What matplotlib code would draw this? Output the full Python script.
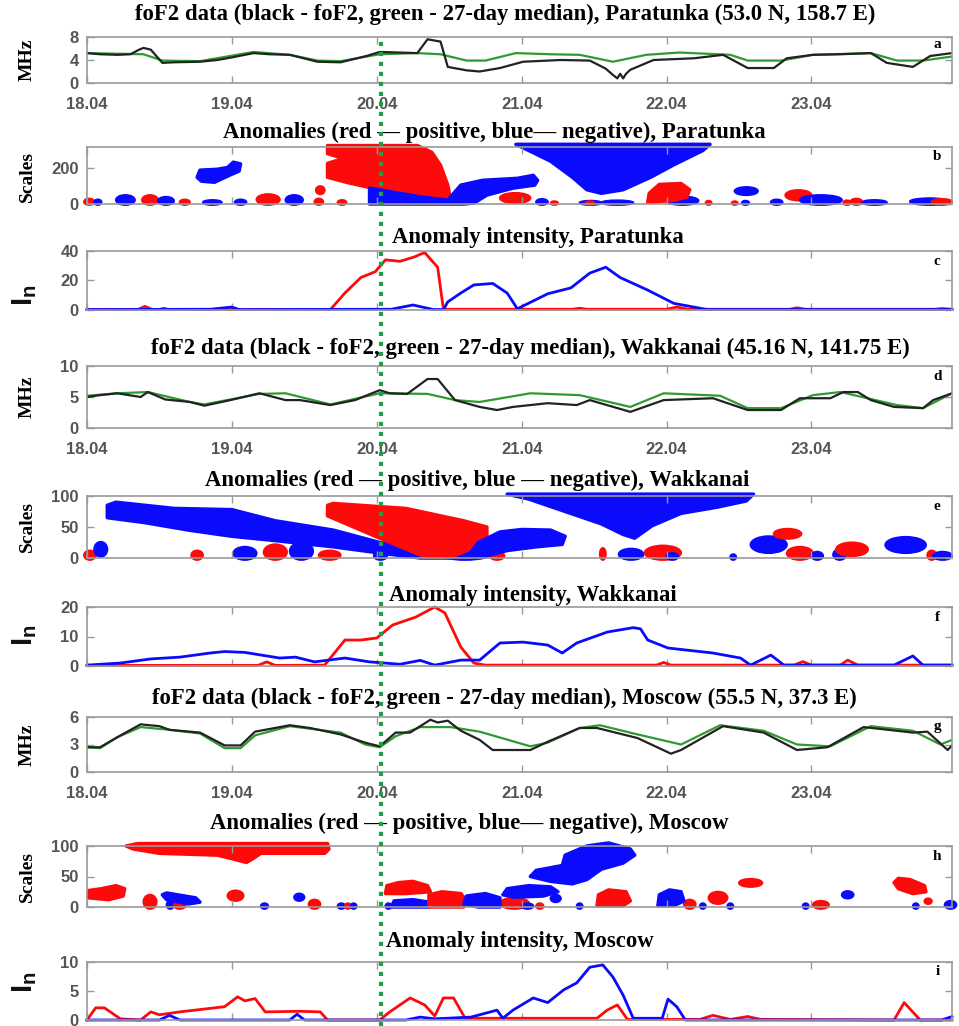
import numpy as np
import matplotlib
matplotlib.use('Agg')
import matplotlib.pyplot as plt
from matplotlib.patches import Ellipse, Polygon
from matplotlib.lines import Line2D
from matplotlib.transforms import blended_transform_factory

plt.rcParams['font.family'] = 'Liberation Sans'
plt.rcParams['mathtext.fontset'] = 'custom'
plt.rcParams['mathtext.rm'] = 'Liberation Sans:bold'
plt.rcParams['mathtext.it'] = 'Liberation Sans:bold'

# time axis in days since 18.04 00:00
day_labels = ['18.04', '19.04', '20.04', '21.04', '22.04', '23.04']
event_t = 2.03

# ---- Paratunka ----
para_fof2_t = [0, .09, .21, .30, .36, .39, .44, .52, .60, .78, .90, 1.01, 1.15, 1.26, 1.40, 1.59, 1.75, 1.93, 2.02, 2.15,
               2.28, 2.35, 2.44, 2.49, 2.62, 2.71, 2.85, 3.01, 3.27, 3.47, 3.58, 3.63, 3.66, 3.68, 3.70, 3.72, 3.75, 3.91, 4.19, 4.39,
               4.56, 4.74, 4.83, 5.01, 5.20, 5.41, 5.52, 5.70, 5.82, 5.97]
para_fof2 = [5.2, 5.0, 4.9, 5.0, 5.8, 6.1, 5.8, 3.5, 3.6, 3.7, 4.0, 4.5, 5.2, 5.0, 4.9, 3.7, 3.6, 4.7, 5.4, 5.3,
             5.2, 7.6, 7.2, 2.8, 2.2, 2.0, 2.6, 3.7, 4.0, 3.9, 2.5, 1.4, 0.8, 1.6, 0.8, 1.6, 2.3, 4.0, 4.3, 4.9,
             2.6, 2.6, 4.3, 4.9, 5.0, 5.2, 3.5, 2.8, 4.7, 5.2]
para_med_t = [0, .39, .52, .78, 1.15, 1.40, 1.59, 1.75, 2.02, 2.28, 2.44, 2.62, 2.75, 2.96, 3.20, 3.40, 3.63, 3.86, 4.09, 4.44,
              4.56, 4.79, 5.01, 5.41, 5.59, 5.77, 5.97]
para_med = [5.2, 5.0, 3.9, 3.8, 5.4, 4.9, 3.9, 3.8, 5.0, 5.2, 5.0, 3.9, 3.9, 5.2, 5.0, 4.9, 3.7, 4.9, 5.3, 4.9,
            3.9, 3.9, 4.9, 5.2, 3.9, 3.9, 4.6]
para_pos_t = [0, .35, .40, .45, .50, .53, .56, 1.68, 1.78, 1.89, 1.99, 2.06, 2.16, 2.26, 2.33, 2.42, 2.46, 3.35, 3.40, 3.45,
              4.00, 4.07, 4.15, 4.85, 4.90, 4.96, 5.85, 5.90, 5.97]
para_pos = [0.3, 0.3, 2.5, 0.3, 0.3, 1.2, 0.3, 0.3, 11.5, 22, 26, 34, 33, 36, 39, 29, 0.5, 0.5, 1.2, 0.5,
            0.5, 2.0, 0.5, 0.5, 1.5, 0.5, 0.5, 1.0, 0.5]
para_neg_t = [0, .85, .95, 1.00, 1.05, 2.10, 2.25, 2.39, 2.46, 2.49, 2.58, 2.67, 2.80, 2.90, 2.97, 3.18, 3.34, 3.47, 3.58, 3.68,
              3.87, 4.05, 4.28, 5.97]
para_neg = [0.3, 0.5, 1.5, 2.0, 0.3, 0.5, 3.4, 0.3, 0.3, 5.5, 11.5, 17, 18, 11.5, 0.8, 11, 15, 25, 29, 22,
            13.5, 4.5, 0.3, 0.3]
# anomaly regions: (colour, times, scales)
para_blobs = [
    ('b', [0.76, 0.78, 0.90, 0.97, 1.01, 1.06, 1.05, 0.98, 0.88, 0.79], [150, 190, 195, 205, 235, 225, 185, 160, 122, 128]),
    ('r', [1.66, 2.28, 2.38, 2.44, 2.49, 2.51, 2.40, 2.20, 1.97, 1.80, 1.66, 1.66, 1.77, 1.66],
          [328, 328, 290, 217, 106, 22, 40, 60, 89, 120, 150, 228, 256, 283]),
    ('b', [1.95, 1.95, 2.15, 2.31, 2.49, 2.58, 2.73, 2.97, 3.08, 3.11, 3.09, 2.94, 2.76, 2.67, 2.60],
          [0, 89, 61, 39, 22, 106, 133, 144, 161, 133, 106, 89, 50, 5, 0]),
    ('b', [2.96, 4.30, 4.25, 4.05, 3.89, 3.70, 3.55, 3.45, 3.35, 3.20, 3.05],
          [335, 335, 300, 220, 150, 80, 60, 80, 150, 240, 300]),
    ('r', [3.87, 3.88, 3.95, 4.10, 4.16, 4.14, 4.05], [10, 60, 110, 115, 80, 40, 20]),
]
# small anomaly clusters: (colour, t0, t1, s0, s1)
para_spots = [
    ('r', -0.02, 0.05, -5, 30), ('b', 0.05, 0.10, -5, 25), ('b', 0.20, 0.33, -5, 50), ('r', 0.38, 0.49, -5, 50),
    ('b', 0.49, 0.60, -5, 40), ('r', 0.64, 0.71, -5, 25), ('b', 0.80, 0.93, -5, 22), ('b', 1.02, 1.10, -5, 25),
    ('r', 1.17, 1.33, -5, 55), ('b', 1.37, 1.49, -5, 50), ('r', 1.58, 1.64, 55, 100), ('r', 1.57, 1.63, -5, 30),
    ('r', 1.73, 1.79, -5, 22), ('r', 2.85, 3.06, 5, 62), ('b', 3.10, 3.18, -5, 28), ('r', 3.20, 3.25, -5, 15),
    ('b', 3.40, 3.55, -5, 18), ('b', 3.55, 3.77, -5, 20), ('r', 3.44, 3.50, -5, 15), ('b', 4.00, 4.22, -5, 42),
    ('r', 4.27, 4.31, -5, 18), ('r', 4.45, 4.49, -5, 15), ('b', 4.52, 4.57, -5, 18), ('b', 4.47, 4.63, 50, 95),
    ('b', 4.72, 4.80, -5, 25), ('r', 4.82, 5.00, 20, 78), ('b', 4.92, 5.21, -5, 50), ('r', 5.22, 5.27, -5, 20),
    ('r', 5.27, 5.35, -5, 30), ('b', 5.35, 5.52, -5, 22), ('b', 5.68, 5.95, -5, 32), ('r', 5.83, 5.97, -5, 28),
]

# ---- Wakkanai ----
wakk_fof2_t = [0, .09, .21, .37, .42, .54, .71, .81, .99, 1.19, 1.37, 1.47, 1.68, 1.85, 2.02, 2.09, 2.21, 2.35, 2.42, 2.54,
               2.71, 2.83, 2.94, 3.18, 3.38, 3.47, 3.75, 3.98, 4.32, 4.56, 4.79, 4.92, 5.13, 5.22, 5.32, 5.41, 5.57, 5.77, 5.84, 5.97]
wakk_fof2 = [5.0, 5.3, 5.6, 5.0, 5.8, 4.6, 4.2, 3.6, 4.5, 5.6, 4.5, 4.5, 3.7, 4.5, 6.1, 5.6, 5.5, 7.9, 7.9, 4.5,
             3.4, 2.9, 3.4, 4.0, 3.7, 4.5, 2.6, 4.5, 4.8, 2.9, 2.9, 4.8, 4.8, 5.8, 5.8, 4.5, 3.4, 3.2, 4.5, 5.6]
wakk_med_t = [0, .21, .42, .71, .81, 1.19, 1.37, 1.68, 2.02, 2.35, 2.54, 2.71, 3.06, 3.40, 3.75, 3.98, 4.37, 4.56, 4.79, 5.01,
              5.20, 5.59, 5.77, 5.97]
wakk_med = [5.2, 5.6, 5.8, 4.2, 3.8, 5.5, 5.6, 3.8, 5.6, 5.5, 4.5, 4.2, 5.6, 5.3, 3.4, 5.6, 5.2, 3.2, 3.2, 5.3,
            5.8, 3.7, 3.2, 5.6]
wakk_pos_t = [0, 1.18, 1.24, 1.30, 1.64, 1.78, 1.89, 2.00, 2.11, 2.27, 2.40, 2.47, 2.58, 2.67, 2.75, 3.93, 3.98, 4.03, 4.88, 4.94,
              5.00, 5.20, 5.25, 5.32, 5.97]
wakk_pos = [0.2, 0.2, 1.4, 0.2, 0.3, 8.8, 8.8, 9.5, 13.9, 16.6, 20, 18, 6.4, 1.0, 0.3, 0.3, 1.2, 0.3, 0.3, 1.5,
            0.3, 0.3, 2.0, 0.3, 0.3]
wakk_neg_t = [0, .23, .44, .64, .85, .95, 1.09, 1.33, 1.44, 1.57, 1.78, 1.95, 2.16, 2.30, 2.40, 2.58, 2.71, 2.85, 3.01, 3.18,
              3.28, 3.38, 3.59, 3.77, 3.82, 3.87, 4.01, 4.32, 4.51, 4.58, 4.72, 4.81, 5.57, 5.70, 5.77, 5.97]
wakk_neg = [0.3, 1.0, 2.4, 3.0, 4.4, 4.9, 4.6, 2.7, 3.0, 1.4, 2.7, 1.4, 0.6, 1.9, 0.3, 2.0, 2.0, 7.8, 8.1, 7.1,
            4.4, 7.8, 11.5, 13, 12.6, 8.8, 6.1, 4.4, 2.7, 0.3, 3.7, 0.3, 0.3, 3.4, 0.3, 0.3]
wakk_blobs = [
    ('b', [0.14, 0.14, 0.20, 0.60, 1.00, 1.30, 1.70, 2.02, 2.40, 2.50, 2.30, 2.02, 1.70, 1.30, 1.00, 0.70, 0.40],
          [65, 85, 90, 80, 78, 60, 45, 25, 10, 0, 0, 8, 18, 28, 35, 45, 57]),
    ('r', [1.66, 1.70, 2.20, 2.60, 2.76, 2.76, 2.55, 2.40, 2.30, 2.02, 1.66],
          [85, 88, 80, 60, 50, 26, 5, 0, 5, 32, 68]),
    ('b', [2.62, 2.70, 2.85, 3.00, 3.20, 3.30, 3.28, 3.10, 2.90, 2.75, 2.62],
          [0, 25, 42, 46, 45, 35, 22, 18, 12, 3, 0]),
    ('b', [2.90, 4.60, 4.55, 4.35, 4.10, 3.90, 3.78, 3.70, 3.55, 3.30, 3.05],
          [103, 103, 92, 82, 72, 52, 32, 38, 55, 75, 95]),
]
wakk_spots = [
    ('r', -0.02, 0.06, -3, 12), ('b', 0.05, 0.14, 2, 26), ('r', 0.72, 0.80, -3, 12), ('b', 1.01, 1.17, -3, 18),
    ('r', 1.22, 1.38, -3, 22), ('b', 1.40, 1.56, -3, 25), ('r', 1.60, 1.75, -3, 12), ('b', 1.98, 2.07, -3, 10),
    ('b', 2.42, 2.80, -3, 20), ('r', 2.78, 2.88, -3, 10), ('r', 3.54, 3.58, -3, 16), ('b', 3.67, 3.84, -3, 15),
    ('r', 3.85, 4.10, -3, 20), ('b', 4.00, 4.08, -3, 8), ('b', 4.44, 4.48, -3, 6), ('b', 4.58, 4.83, 8, 35),
    ('r', 4.74, 4.93, 31, 47), ('r', 4.83, 5.01, -3, 18), ('b', 5.00, 5.08, -3, 10), ('b', 5.15, 5.24, -3, 14),
    ('r', 5.17, 5.39, 3, 25), ('b', 5.51, 5.79, 8, 34), ('r', 5.80, 5.86, -3, 12), ('b', 5.84, 5.97, -3, 10),
]

# ---- Moscow ----
mosc_fof2_t = [0, .09, .21, .37, .50, .57, .78, .95, 1.06, 1.16, 1.40, 1.54, 1.75, 1.92, 2.02, 2.13, 2.23, 2.37, 2.42, 2.49,
               2.58, 2.71, 2.80, 3.06, 3.18, 3.40, 3.52, 3.80, 4.03, 4.10, 4.39, 4.67, 4.90, 5.11, 5.36, 5.70, 5.80, 5.94, 5.97]
mosc_fof2 = [2.7, 2.7, 3.8, 5.2, 5.0, 4.6, 4.3, 2.9, 2.9, 4.4, 5.1, 4.8, 4.1, 3.2, 2.8, 4.3, 4.3, 5.7, 5.4, 5.6,
             4.5, 3.5, 2.4, 2.4, 3.3, 4.8, 4.8, 3.7, 2.0, 2.4, 5.0, 4.3, 2.4, 2.7, 4.9, 4.3, 4.4, 2.4, 2.9]
mosc_med_t = [0, .09, .21, .37, .57, .78, .95, 1.06, 1.16, 1.40, 1.75, 1.92, 2.02, 2.13, 2.30, 2.51, 2.71, 3.06, 3.18, 3.40,
              3.54, 3.80, 4.10, 4.37, 4.67, 4.90, 5.13, 5.41, 5.70, 5.89, 5.97]
mosc_med = [2.7, 2.6, 3.8, 4.9, 4.6, 4.2, 2.6, 2.6, 4.0, 5.0, 4.3, 3.0, 2.7, 3.9, 4.9, 4.9, 4.4, 2.8, 3.2, 4.8,
            5.1, 4.1, 3.0, 5.1, 4.5, 3.0, 2.8, 5.0, 4.5, 3.0, 3.5]
mosc_pos_t = [0, .06, .12, .23, .37, .44, .50, .64, .78, .95, 1.04, 1.09, 1.16, 1.23, 1.47, 1.61, 1.66, 2.02, 2.09, 2.23,
              2.33, 2.40, 2.46, 2.53, 2.61, 3.52, 3.59, 3.66, 3.73, 4.23, 4.32, 4.44, 4.56, 4.65, 5.57, 5.64, 5.75, 5.97]
mosc_pos = [0, 2.1, 2.1, 0.2, 0, 1.4, 0.9, 1.4, 1.8, 2.3, 4.0, 3.3, 3.7, 1.4, 1.5, 1.4, 0, 0, 1.4, 3.8,
            2.6, 0.7, 3.8, 3.8, 0.3, 0.3, 1.7, 2.6, 0.1, 0.1, 0.8, 0.1, 0.6, 0.1, 0, 3.0, 0, 0]
mosc_neg_t = [0, .50, .57, .64, 1.40, 1.45, 1.50, 2.20, 2.30, 2.40, 2.65, 2.83, 2.87, 2.94, 3.08, 3.18, 3.29, 3.38, 3.47, 3.56,
              3.63, 3.70, 3.77, 3.97, 4.01, 4.07, 4.13, 4.20, 5.90, 5.97]
mosc_neg = [0, 0, 0.8, 0, 0, 1.0, 0, 0, 0.5, 0.2, 0.5, 1.7, 0.3, 1.7, 3.8, 3.0, 5.2, 6.4, 9.1, 9.5,
            7.4, 4.3, 0.3, 0.3, 3.6, 2.3, 0, 0, 0, 0.6]
mosc_blobs = [
    ('r', [0.27, 0.35, 1.66, 1.67, 1.64, 1.20, 1.15, 1.10, 1.02, 0.90, 0.50, 0.32],
          [100, 104, 104, 95, 88, 88, 80, 73, 78, 85, 88, 95]),
    ('r', [0.01, 0.01, 0.10, 0.20, 0.26, 0.25, 0.15], [15, 27, 30, 35, 30, 18, 12]),
    ('b', [0.52, 0.55, 0.75, 0.78, 0.70, 0.55], [20, 23, 15, 8, 5, 12]),
    ('r', [2.06, 2.07, 2.15, 2.25, 2.35, 2.37, 2.20], [22, 35, 40, 42, 35, 25, 22]),
    ('b', [2.10, 2.12, 2.25, 2.36, 2.36], [0, 10, 12, 8, 0]),
    ('r', [2.36, 2.36, 2.45, 2.58, 2.62, 2.60], [0, 20, 25, 22, 10, 0]),
    ('b', [2.60, 2.62, 2.75, 2.85, 2.85, 2.70], [5, 18, 22, 15, 0, 0]),
    ('b', [2.87, 2.90, 3.05, 3.20, 3.25, 3.15, 2.95], [20, 30, 35, 33, 25, 18, 16]),
    ('b', [3.06, 3.10, 3.28, 3.30, 3.45, 3.60, 3.75, 3.78, 3.70, 3.55, 3.45, 3.35, 3.20],
          [50, 60, 68, 85, 100, 105, 95, 85, 72, 62, 45, 38, 42]),
    ('r', [3.52, 3.53, 3.60, 3.72, 3.75, 3.70], [2, 20, 28, 25, 10, 2]),
    ('b', [3.94, 3.95, 4.02, 4.10, 4.12, 4.05], [2, 20, 28, 25, 10, 2]),
    ('r', [5.57, 5.60, 5.68, 5.78, 5.79, 5.70, 5.60], [40, 47, 45, 35, 25, 22, 30]),
]
mosc_spots = [
    ('r', 0.39, 0.48, -3, 20), ('b', 0.55, 0.60, -3, 10), ('r', 0.60, 0.68, -3, 8), ('r', 0.97, 1.08, 10, 27),
    ('b', 1.20, 1.25, -3, 6), ('b', 1.43, 1.50, 10, 22), ('r', 1.53, 1.61, -3, 12), ('b', 1.73, 1.78, -3, 6),
    ('r', 1.78, 1.82, -3, 6), ('b', 1.82, 1.86, -3, 6), ('b', 2.06, 2.10, -3, 6), ('r', 2.85, 3.05, -3, 15),
    ('b', 3.00, 3.08, -3, 6), ('r', 3.10, 3.15, -3, 6), ('b', 3.20, 3.27, 8, 20), ('b', 3.38, 3.42, -3, 6),
    ('r', 4.12, 4.20, -3, 12), ('b', 4.23, 4.27, -3, 6), ('r', 4.29, 4.42, 5, 25), ('b', 4.42, 4.46, -3, 6),
    ('r', 4.50, 4.66, 33, 46), ('b', 4.94, 4.98, -3, 6), ('r', 5.01, 5.12, -3, 10), ('b', 5.21, 5.29, 14, 26),
    ('b', 5.70, 5.74, -3, 6), ('r', 5.78, 5.83, 5, 14), ('b', 5.92, 6.00, -3, 10),
]

titles = [
    'foF2 data (black - foF2, green - 27-day median), Paratunka (53.0 N, 158.7 E)',
    'Anomalies (red \u2014 positive, blue\u2014 negative), Paratunka',
    'Anomaly intensity, Paratunka',
    'foF2 data (black - foF2, green - 27-day median), Wakkanai (45.16 N, 141.75 E)',
    'Anomalies (red \u2014 positive, blue \u2014 negative), Wakkanai',
    'Anomaly intensity, Wakkanai',
    'foF2 data (black - foF2, green - 27-day median), Moscow (55.5 N, 37.3 E)',
    'Anomalies (red \u2014 positive, blue\u2014 negative), Moscow',
    'Anomaly intensity, Moscow',
]

# layout in pixels
W, H = 959, 1026
X0, X1 = 87, 952
panel_rows = [(37, 83), (147, 204), (251, 310), (366, 428), (496, 558), (607, 666), (717, 772), (846, 907), (962, 1020)]
title_pos = [(505, 14), (494, 132), (538, 237), (530, 348), (477, 480), (533, 595), (504, 698), (469, 823), (520, 942)]
ylabel_y = [60, 176, 295, 397, 527, 635, 745, 877, 982]

RED, BLUE = '#ff0a0a', '#0a0aff'
BLACK, GREEN = '#222222', '#2f9a2f'
col = {'r': RED, 'b': BLUE}
SERIF = 'Liberation Serif'

fig = plt.figure(figsize=(W / 100, H / 100), dpi=100)
axes = []
for top, bot in panel_rows:
    axes.append(fig.add_axes([X0 / W, 1 - bot / H, (X1 - X0) / W, (bot - top) / H]))


def style(ax, ylim, yticks, xlabels, letter):
    ax.set_xlim(0, 5.97)
    ax.set_ylim(*ylim)
    ax.set_xticks(range(6))
    ax.set_xticklabels(day_labels if xlabels else [])
    ax.set_yticks(yticks)
    ax.tick_params(direction='in', top=True, right=True, length=5, width=1, color='#999999',
                   labelcolor='#555555', labelsize=12)
    ax.tick_params(axis='x', pad=10)
    ax.tick_params(axis='y', pad=6)
    for lab in ax.get_xticklabels() + ax.get_yticklabels():
        lab.set_fontweight('bold')
    for sp in ax.spines.values():
        sp.set_color('#9a9a9a')
        sp.set_linewidth(1.2)
    ax.text(0.983, 0.83, letter, transform=ax.transAxes, ha='center', va='center',
            family=SERIF, fontweight='bold', fontsize=11)


def draw_fof2(ax, t_f, v_f, t_m, v_m, ylim, yticks, letter):
    ax.plot(t_m, v_m, color=GREEN, lw=1.6)
    ax.plot(t_f, v_f, color=BLACK, lw=1.6)
    style(ax, ylim, yticks, True, letter)


def draw_anoms(ax, blobs, spots, ylim, yticks, letter):
    for c, t0, t1, s0, s1 in spots:
        ax.add_patch(Ellipse(((t0 + t1) / 2, (s0 + s1) / 2), t1 - t0, s1 - s0,
                             fc=col[c], ec=col[c], lw=1.5, clip_on=False))
    for c, ts, ss in blobs:
        ax.add_patch(Polygon(np.column_stack([ts, ss]), closed=True, fc=col[c], ec=col[c],
                             lw=2.5, joinstyle='round', clip_on=False))
    style(ax, ylim, yticks, False, letter)


def draw_int(ax, t_p, v_p, t_n, v_n, ylim, yticks, letter):
    ax.plot(t_p, v_p, color=RED, lw=2.0, clip_on=False)
    ax.plot(t_n, v_n, color=BLUE, lw=2.0, clip_on=False)
    style(ax, ylim, yticks, False, letter)


draw_fof2(axes[0], para_fof2_t, para_fof2, para_med_t, para_med, (0, 8), [0, 4, 8], 'a')
draw_anoms(axes[1], para_blobs, para_spots, (0, 320), [0, 200], 'b')
draw_int(axes[2], para_pos_t, para_pos, para_neg_t, para_neg, (0, 40), [0, 20, 40], 'c')
draw_fof2(axes[3], wakk_fof2_t, wakk_fof2, wakk_med_t, wakk_med, (0, 10), [0, 5, 10], 'd')
draw_anoms(axes[4], wakk_blobs, wakk_spots, (0, 100), [0, 50, 100], 'e')
draw_int(axes[5], wakk_pos_t, wakk_pos, wakk_neg_t, wakk_neg, (0, 20), [0, 10, 20], 'f')
draw_fof2(axes[6], mosc_fof2_t, mosc_fof2, mosc_med_t, mosc_med, (0, 6), [0, 3, 6], 'g')
draw_anoms(axes[7], mosc_blobs, mosc_spots, (0, 100), [0, 50, 100], 'h')
draw_int(axes[8], mosc_pos_t, mosc_pos, mosc_neg_t, mosc_neg, (0, 10), [0, 5, 10], 'i')

for (x, y), txt in zip(title_pos, titles):
    fig.text(x / W, 1 - y / H, txt, ha='center', va='center', family=SERIF,
             fontweight='bold', fontsize=16.4)

ylabels = ['MHz', 'Scales', r'$\mathrm{I_n}$'] * 3
for yc, lab in zip(ylabel_y, ylabels):
    if lab.startswith('$'):
        fig.text(25 / W, 1 - yc / H, lab, rotation=90, ha='center', va='center', fontsize=21, color='#111111')
    else:
        fig.text(27 / W, 1 - yc / H, lab, rotation=90, ha='center', va='center', family=SERIF,
                 fontweight='bold', fontsize=14)

# event line crossing all panels
trans = blended_transform_factory(axes[0].transData, fig.transFigure)
fig.add_artist(Line2D([event_t, event_t], [0, 1 - 37 / H], transform=trans, color='#1fa046',
                      lw=3, linestyle=(0, (1, 1.4)), zorder=10))

fig.savefig('out.png', dpi=100)
